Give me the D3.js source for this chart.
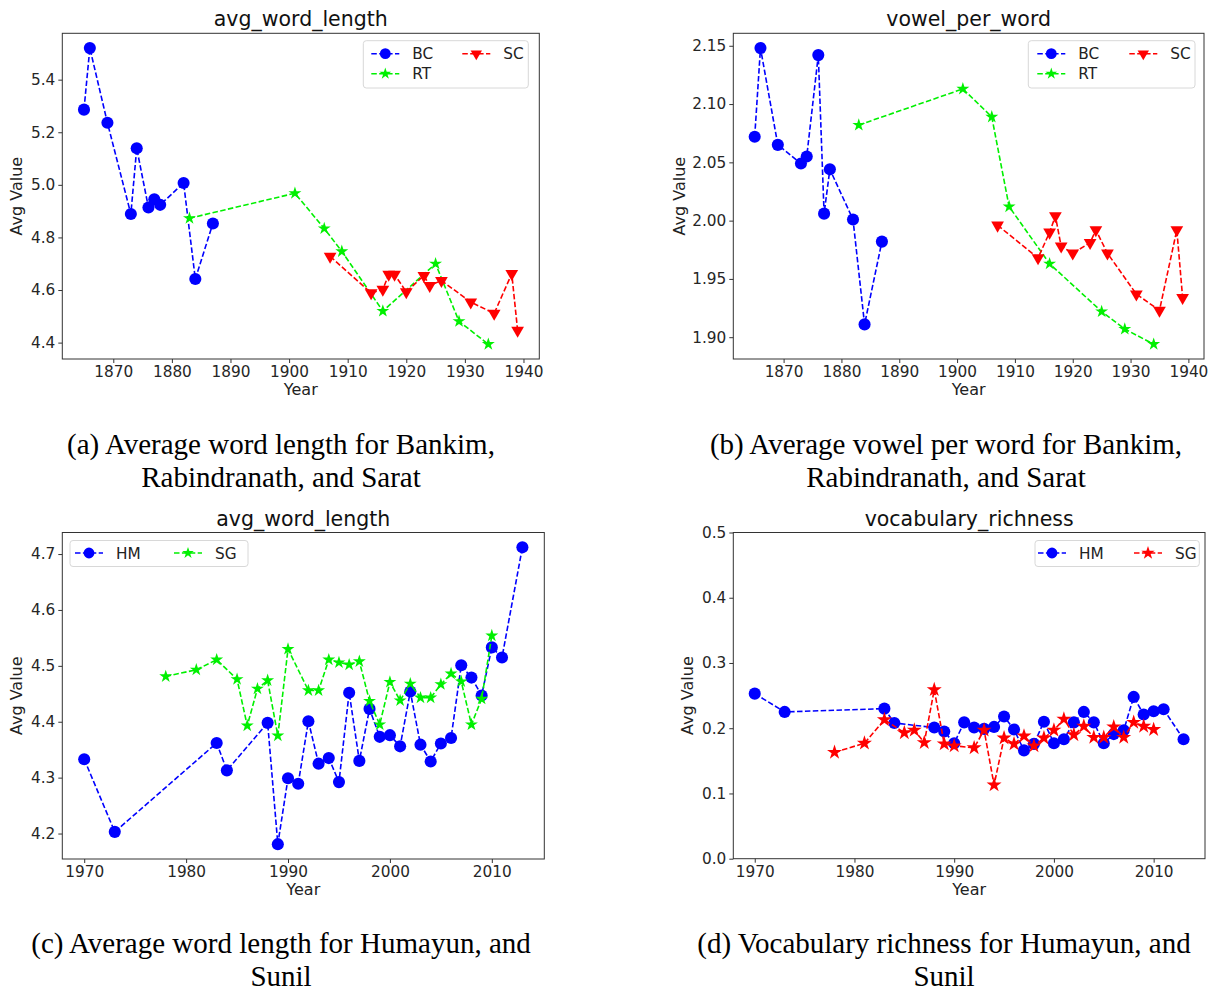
<!DOCTYPE html>
<html>
<head>
<meta charset="utf-8">
<script src="https://cdn.jsdelivr.net/npm/d3@7"></script>
<style>
  body { margin: 0; background: #fff; }
  svg text { font-family: "DejaVu Sans", sans-serif; }
</style>
</head>
<body>
<svg width="1208" height="994"></svg>
<script>
// ---- data ----
// Bankim (BC), Rabindranath (RT), Sarat (SC)
var bcYears = [1865, 1866, 1869, 1873, 1874, 1876, 1877, 1878, 1882, 1884, 1887];
var rtYears = [1883, 1901, 1906, 1909, 1916, 1925, 1929, 1934];
var scYears = [1907, 1914, 1916, 1917, 1918, 1920, 1923, 1924, 1926, 1931, 1935, 1938, 1939];

var bcWordLen = [5.286, 5.520, 5.236, 4.889, 5.139, 4.914, 4.945, 4.924, 5.007, 4.642, 4.853];
var rtWordLen = [4.873, 4.968, 4.834, 4.747, 4.520, 4.700, 4.481, 4.394];
var scWordLen = [4.728, 4.589, 4.602, 4.659, 4.659, 4.593, 4.655, 4.617, 4.636, 4.554, 4.511, 4.662, 4.446];

var bcVowel = [2.072, 2.148, 2.065, 2.049, 2.055, 2.142, 2.006, 2.044, 2.001, 1.911, 1.982];
var rtVowel = [2.082, 2.113, 2.089, 2.012, 1.963, 1.922, 1.907, 1.894];
var scVowel = [1.996, 1.968, 1.990, 2.004, 1.978, 1.972, 1.981, 1.992, 1.972, 1.937, 1.923, 1.992, 1.934];

// Humayun (HM), Sunil (SG)
var hmYears = [1970, 1973, 1983, 1984, 1988, 1989, 1990, 1991, 1992, 1993, 1994, 1995, 1996, 1997, 1998,
               1999, 2000, 2001, 2002, 2003, 2004, 2005, 2006, 2007, 2008, 2009, 2010, 2011, 2013];
var sgYears = [1978, 1981, 1983, 1985, 1986, 1987, 1988, 1989, 1990, 1992, 1993, 1994, 1995, 1996,
               1997, 1998, 1999, 2000, 2001, 2002, 2003, 2004, 2005, 2006, 2007, 2008, 2009, 2010];

var hmWordLen = [4.333, 4.203, 4.362, 4.313, 4.398, 4.181, 4.299, 4.289, 4.401, 4.325, 4.335, 4.292, 4.452, 4.330, 4.423,
                 4.373, 4.376, 4.356, 4.454, 4.359, 4.329, 4.361, 4.371, 4.501, 4.479, 4.447, 4.533, 4.515, 4.712];
var sgWordLen = [4.481, 4.493, 4.511, 4.476, 4.393, 4.459, 4.474, 4.375, 4.530, 4.456, 4.456, 4.511, 4.506, 4.502,
                 4.508, 4.437, 4.395, 4.471, 4.438, 4.468, 4.443, 4.443, 4.467, 4.486, 4.472, 4.395, 4.441, 4.554];

var hmVocab = [0.253, 0.225, 0.230, 0.208, 0.201, 0.195, 0.177, 0.209, 0.201, 0.199, 0.202, 0.218, 0.198, 0.166, 0.176,
               0.210, 0.177, 0.183, 0.209, 0.225, 0.209, 0.177, 0.191, 0.197, 0.248, 0.221, 0.226, 0.229, 0.183];
var sgVocab = [0.163, 0.177, 0.213, 0.193, 0.197, 0.178, 0.259, 0.176, 0.173, 0.170, 0.197, 0.113, 0.185, 0.176,
               0.188, 0.173, 0.185, 0.197, 0.214, 0.190, 0.203, 0.186, 0.186, 0.202, 0.186, 0.209, 0.203, 0.198];

var xTicksOld = [1870, 1880, 1890, 1900, 1910, 1920, 1930, 1940];
var xTicksNew = [1970, 1980, 1990, 2000, 2010];
var yTicksA = [4.4, 4.6, 4.8, 5.0, 5.2, 5.4];
var yTicksB = [1.90, 1.95, 2.00, 2.05, 2.10, 2.15];
var yTicksC = [4.2, 4.3, 4.4, 4.5, 4.6, 4.7];
var yTicksD = [0.0, 0.1, 0.2, 0.3, 0.4, 0.5];

var captions = [
    ["(a) Average word length for Bankim,", "Rabindranath, and Sarat"],
    ["(b) Average vowel per word for Bankim,", "Rabindranath, and Sarat"],
    ["(c) Average word length for Humayun, and", "Sunil"],
    ["(d) Vocabulary richness for Humayun, and", "Sunil"]
];

var BLUE = "#0000ff", GREEN = "#00f000", RED = "#ff0000";

var svg = d3.select("svg");
svg.append("rect").attr("width", 1208).attr("height", 994).attr("fill", "#fff");

function symbolPath(kind, size) {
    var t = kind == "circle" ? d3.symbolCircle : kind == "star" ? d3.symbolStar : d3.symbolTriangle;
    return d3.symbol().type(t).size(size)();
}

// matplotlib style 5% margin
function padded(ext) {
    var m = (ext[1] - ext[0]) * 0.05;
    return [ext[0] - m, ext[1] + m];
}

function drawPanel(p) {
    var g = svg.append("g");
    var allX = [], allY = [];
    p.series.forEach(function(s) { allX = allX.concat(s.x); allY = allY.concat(s.y); });

    var x = d3.scaleLinear().domain(padded(d3.extent(allX))).range([p.left, p.right]);
    var y = d3.scaleLinear().domain(p.yDomain || padded(d3.extent(allY))).range([p.bottom, p.top]);

    var xAxis = g.append("g")
        .attr("transform", "translate(0," + p.bottom + ")")
        .call(d3.axisBottom(x).tickValues(p.xTicks).tickFormat(d3.format("d")).tickSize(4).tickPadding(3).tickSizeOuter(0));
    var yAxis = g.append("g")
        .attr("transform", "translate(" + p.left + ",0)")
        .call(d3.axisLeft(y).tickValues(p.yTicks).tickFormat(d3.format(p.yFormat)).tickSize(4).tickPadding(3).tickSizeOuter(0));
    [xAxis, yAxis].forEach(function(a) {
        a.select(".domain").remove();
        a.selectAll("line").attr("stroke", "#333");
        a.selectAll("text").attr("fill", "#262626").style("font-size", "15.3px")
            .style("font-family", "'DejaVu Sans', sans-serif");
    });

    // frame
    g.append("rect")
        .attr("x", p.left).attr("y", p.top)
        .attr("width", p.right - p.left).attr("height", p.bottom - p.top)
        .attr("fill", "none").attr("stroke", "#333").attr("stroke-width", 1);

    // title and axis labels
    g.append("text")
        .attr("x", (p.left + p.right) / 2).attr("y", p.top - 7)
        .attr("text-anchor", "middle").attr("font-size", "20.5px").attr("fill", "#111")
        .text(p.title);
    g.append("text")
        .attr("x", (p.left + p.right) / 2).attr("y", p.bottom + 36)
        .attr("text-anchor", "middle").attr("font-size", "16px").attr("fill", "#222")
        .text("Year");
    g.append("text")
        .attr("transform", "translate(" + (p.left - p.ylabelGap) + "," + ((p.top + p.bottom) / 2) + ") rotate(-90)")
        .attr("dy", "0.35em")
        .attr("text-anchor", "middle").attr("font-size", "16px").attr("fill", "#222")
        .text("Avg Value");

    // series
    p.series.forEach(function(s) {
        var pts = s.x.map(function(d, i) { return [d, s.y[i]]; });
        g.append("path")
            .datum(pts)
            .attr("fill", "none")
            .attr("stroke", s.color)
            .attr("stroke-width", 1.6)
            .attr("stroke-dasharray", "5.5,2.4")
            .attr("d", d3.line()
                .x(function(d) { return x(d[0]); })
                .y(function(d) { return y(d[1]); }));
        g.selectAll(null)
            .data(pts)
            .enter().append("path")
            .attr("transform", function(d) {
                return "translate(" + x(d[0]) + "," + y(d[1]) + ")" + (s.marker == "tri" ? " rotate(180)" : "");
            })
            .attr("d", symbolPath(s.marker, s.size))
            .attr("fill", s.color);
    });

    // legend
    var L = p.legend;
    var lg = g.append("g").attr("transform", "translate(" + L.x + "," + L.y + ")");
    lg.append("rect")
        .attr("width", L.w).attr("height", L.h).attr("rx", 3)
        .attr("fill", "#fff").attr("fill-opacity", 0.8)
        .attr("stroke", "#d8d8d8");
    p.series.forEach(function(s, i) {
        var pos = L.slots[i];
        var e = lg.append("g").attr("transform", "translate(" + pos[0] + "," + pos[1] + ")");
        e.append("line")
            .attr("x1", 0).attr("x2", 28)
            .attr("stroke", s.color).attr("stroke-width", 1.6).attr("stroke-dasharray", "5.5,2.4");
        e.append("path")
            .attr("transform", "translate(14,0)" + (s.marker == "tri" ? " rotate(180)" : ""))
            .attr("d", symbolPath(s.marker, s.size * 0.8))
            .attr("fill", s.color);
        e.append("text")
            .attr("x", 41).attr("dy", "0.36em")
            .attr("font-size", "15.3px").attr("fill", "#222")
            .text(s.name);
    });
}

drawPanel({
    left: 62.3, right: 539.3, top: 33.3, bottom: 359, ylabelGap: 45.5,
    title: "avg_word_length", xTicks: xTicksOld, yTicks: yTicksA, yFormat: ".1f",
    series: [
        { name: "BC", x: bcYears, y: bcWordLen, color: BLUE, marker: "circle", size: 115 },
        { name: "RT", x: rtYears, y: rtWordLen, color: GREEN, marker: "star", size: 52 },
        { name: "SC", x: scYears, y: scWordLen, color: RED, marker: "tri", size: 70 }
    ],
    legend: { x: 363.3, y: 40.7, w: 165, h: 47.3, slots: [[8, 13], [8, 33], [99, 13]] }
});

drawPanel({
    left: 733.3, right: 1204, top: 33.3, bottom: 359, ylabelGap: 53.5,
    title: "vowel_per_word", xTicks: xTicksOld, yTicks: yTicksB, yFormat: ".2f",
    series: [
        { name: "BC", x: bcYears, y: bcVowel, color: BLUE, marker: "circle", size: 115 },
        { name: "RT", x: rtYears, y: rtVowel, color: GREEN, marker: "star", size: 52 },
        { name: "SC", x: scYears, y: scVowel, color: RED, marker: "tri", size: 70 }
    ],
    legend: { x: 1028.3, y: 40.7, w: 166.7, h: 47.3, slots: [[9, 13], [9, 33], [101, 13]] }
});

drawPanel({
    left: 62.3, right: 544.3, top: 532.5, bottom: 859, ylabelGap: 45.5,
    title: "avg_word_length", xTicks: xTicksNew, yTicks: yTicksC, yFormat: ".1f",
    series: [
        { name: "HM", x: hmYears, y: hmWordLen, color: BLUE, marker: "circle", size: 115 },
        { name: "SG", x: sgYears, y: sgWordLen, color: GREEN, marker: "star", size: 52 }
    ],
    legend: { x: 70, y: 540.5, w: 178, h: 26, slots: [[5, 12.5], [104, 12.5]] }
});

drawPanel({
    left: 733.3, right: 1205, top: 532.5, bottom: 858.7, ylabelGap: 45.5,
    title: "vocabulary_richness", xTicks: xTicksNew, yTicks: yTicksD, yFormat: ".1f", yDomain: [0, 0.5],
    series: [
        { name: "HM", x: hmYears, y: hmVocab, color: BLUE, marker: "circle", size: 115 },
        { name: "SG", x: sgYears, y: sgVocab, color: RED, marker: "star", size: 70 }
    ],
    legend: { x: 1035, y: 540.5, w: 164.3, h: 26, slots: [[3, 12.5], [99, 12.5]] }
});

// captions below each subfigure
var capPos = [[281, 453.5], [946, 453.5], [281, 952.5], [944, 952.5]];
captions.forEach(function(c, i) {
    var t = svg.append("text")
        .attr("x", capPos[i][0]).attr("y", capPos[i][1])
        .attr("text-anchor", "middle")
        .style("font-family", "'Liberation Serif', 'Times New Roman', serif")
        .style("font-size", "29px")
        .attr("fill", "#000");
    t.append("tspan").attr("x", capPos[i][0]).text(c[0]);
    t.append("tspan").attr("x", capPos[i][0]).attr("dy", 33.5).text(c[1]);
});
</script>
</body>
</html>
